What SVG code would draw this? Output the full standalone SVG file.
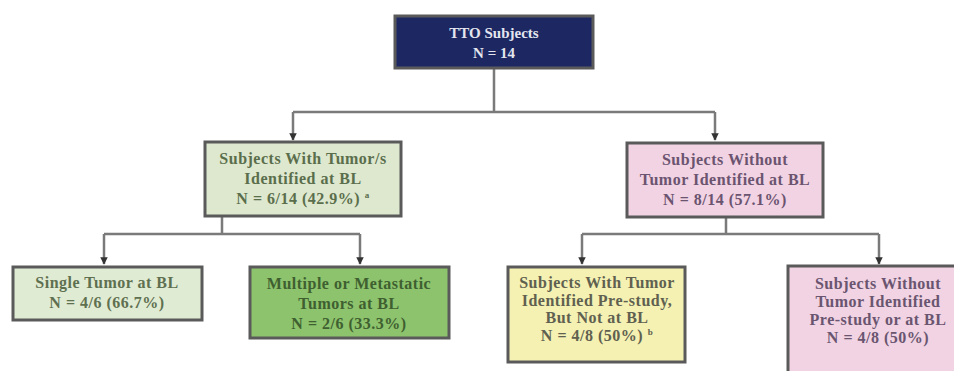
<svg xmlns="http://www.w3.org/2000/svg" width="954" height="371" viewBox="0 0 954 371">
<defs>
<marker id="arr" viewBox="0 0 10 10" refX="9" refY="5" markerWidth="3" markerHeight="3" orient="auto">
<path d="M0,0 L10,5 L0,10 z" fill="#333"/>
</marker>
<style>
.box{stroke:#5a5a5a;stroke-width:3}
.t{font-family:"Liberation Serif","Times New Roman",serif;font-weight:bold;font-size:16px;letter-spacing:0.5px;text-anchor:middle}
.tt{font-size:15px;letter-spacing:0}
.sup{font-size:9px}
.c{fill:none;stroke:#7a7a7a;stroke-width:2.5}
</style>
</defs>
<rect width="954" height="371" fill="#ffffff"/>
<g id="connectors">
<path class="c" d="M494,68 V112 M293,112 H715"/>
<path class="c" d="M293,112 V140" marker-end="url(#arr)"/>
<path class="c" d="M715,112 V140" marker-end="url(#arr)"/>
<path class="c" d="M222,216 V234 M104,234 H360"/>
<path class="c" d="M104,234 V264" marker-end="url(#arr)"/>
<path class="c" d="M360,234 V264" marker-end="url(#arr)"/>
<path class="c" d="M726,218 V234 M582,234 H879"/>
<path class="c" d="M582,234 V264" marker-end="url(#arr)"/>
<path class="c" d="M879,234 V264" marker-end="url(#arr)"/>
</g>
<g id="tto">
<rect class="box" x="395" y="16" width="198" height="52" fill="#1d2862" stroke="#2b2f55"/>
<text class="t tt" x="494" y="38" fill="#e4e6ef">TTO Subjects</text>
<text class="t tt" x="494" y="58" fill="#e4e6ef">N = 14</text>
</g>
<g id="with-tumor">
<rect class="box" x="205" y="142" width="196" height="74" fill="#dde8cf"/>
<text class="t" x="303" y="164" fill="#5b6e4c">Subjects With Tumor/s</text>
<text class="t" x="303" y="184" fill="#5b6e4c">Identified at BL</text>
<text class="t" x="303" y="204" fill="#5b6e4c">N = 6/14 (42.9%) <tspan class="sup" dy="-6">a</tspan></text>
</g>
<g id="without-tumor">
<rect class="box" x="627" y="143" width="196" height="74" fill="#f2d3e3"/>
<text class="t" x="725" y="165" fill="#6b5470">Subjects Without</text>
<text class="t" x="725" y="185" fill="#6b5470">Tumor Identified at BL</text>
<text class="t" x="725" y="205" fill="#6b5470">N = 8/14 (57.1%)</text>
</g>
<g id="single">
<rect class="box" x="13" y="267" width="189" height="53" fill="#e0ebd3"/>
<text class="t" x="107" y="288" fill="#5e7050">Single Tumor at BL</text>
<text class="t" x="107" y="308" fill="#5e7050">N = 4/6 (66.7%)</text>
</g>
<g id="multiple">
<rect class="box" x="250" y="267" width="199" height="71" fill="#8cc36c"/>
<text class="t" x="349" y="289" fill="#3f5f30">Multiple or Metastatic</text>
<text class="t" x="349" y="309" fill="#3f5f30">Tumors at BL</text>
<text class="t" x="349" y="329" fill="#3f5f30">N = 2/6 (33.3%)</text>
</g>
<g id="prestudy">
<rect class="box" x="508" y="267" width="177" height="95" fill="#f4f1b2"/>
<text class="t" x="597" y="288" fill="#606050">Subjects With Tumor</text>
<text class="t" x="597" y="305.5" fill="#606050">Identified Pre-study,</text>
<text class="t" x="597" y="323" fill="#606050">But Not at BL</text>
<text class="t" x="597" y="340.5" fill="#606050">N = 4/8 (50%) <tspan class="sup" dy="-6">b</tspan></text>
</g>
<g id="none">
<rect class="box" x="788" y="266" width="182" height="115" fill="#f1d3e3"/>
<text class="t" x="878" y="289" fill="#6a5570">Subjects Without</text>
<text class="t" x="878" y="307" fill="#6a5570">Tumor Identified</text>
<text class="t" x="878" y="325" fill="#6a5570">Pre-study or at BL</text>
<text class="t" x="878" y="343" fill="#6a5570">N = 4/8 (50%)</text>
</g>
</svg>
